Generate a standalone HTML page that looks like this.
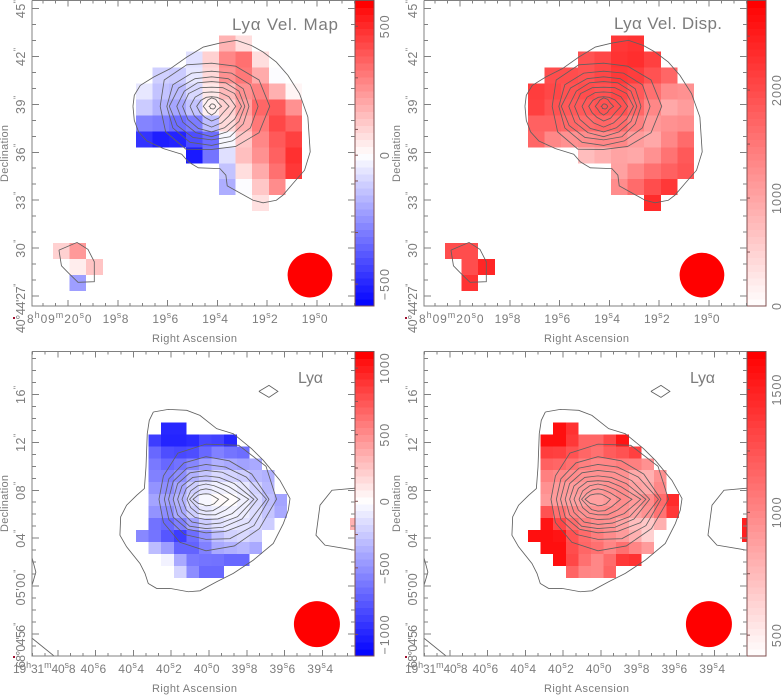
<!DOCTYPE html>
<html lang="en">
<head>
<meta charset="utf-8">
<title>Ly-alpha velocity maps</title>
<style>
html,body{margin:0;padding:0;background:#fff;width:782px;height:695px;overflow:hidden}
svg{display:block;font-family:"Liberation Sans",sans-serif}
text{fill:#7c7c7c}
</style>
</head>
<body>
<svg id="chart" width="782" height="695" viewBox="0 0 782 695"></svg>
<script>
const _ = null;

/* Panel 1: Ly-alpha velocity (km/s), rows run north to south */
const velocityTop = [
[_,_,_,_,_,_,_,_,_,_,180,78],
[_,_,_,_,_,_,_,_,-72,108,282,336,78],
[_,_,_,_,_,_,-108,-120,-54,90,258,318,198,-6],
[_,_,_,_,_,-54,-138,-156,-90,54,162,258,300,186,24],
[_,_,_,_,_,-120,-180,-204,-138,36,108,222,360,390,258],
[_,_,_,_,_,-282,-300,-336,-300,-150,90,186,318,432,372],
[_,_,_,_,_,-468,-516,-504,-408,-336,-18,132,282,390,450],
[_,_,_,_,_,_,_,_,-528,-318,-72,150,258,372,486],
[_,_,_,_,_,_,_,_,_,_,-138,78,198,336,468],
[_,_,_,_,_,_,_,_,_,_,-186,-6,132,270],
[_,_,_,_,_,_,_,_,_,_,_,_,72],
[],[],
[108,240],
[_,42,138],
[_,-222]
];

/* Panel 2: Ly-alpha velocity dispersion (km/s) */
const dispersionTop = [
[_,_,_,_,_,_,_,_,_,_,2207,2264],
[_,_,_,_,_,_,_,_,1924,2038,2264,2320,2122],
[_,_,_,_,_,_,1981,1981,1924,2038,2207,2151,1924,1698],
[_,_,_,_,_,2151,2038,1924,1981,1924,2038,1840,1585,1274,1217],
[_,_,_,_,_,2122,1924,1840,1840,1924,1924,1698,1330,962,1104],
[_,_,_,_,_,1755,1755,1698,1641,1698,1641,1415,1132,1217,1274],
[_,_,_,_,_,1698,1330,1217,1274,1330,1330,1104,962,1330,1641],
[_,_,_,_,_,_,_,_,736,877,1019,962,1217,1556,1840],
[_,_,_,_,_,_,_,_,_,_,1047,1330,1585,1755,1896],
[_,_,_,_,_,_,_,_,_,_,1274,1641,1981,2207],
[_,_,_,_,_,_,_,_,_,_,_,_,2349],
[],[],
[1981,1981],
[_,1981,2406],
[_,2264]
];

/* Panel 3: second source velocity (km/s) */
const velocityBottom = [
[_,_,-978,-978],
[_,-886,-1000,-1000,-966,-840,-862,-989],
[_,-690,-805,-828,-805,-690,-575,-632,-667],
[_,-610,-690,-644,-552,-448,-356,-391,-426,-391],
[_,-575,-586,-518,-356,-264,-172,-196,-230,-322,-356],
[_,-494,-518,-414,-230,-115,-69,-58,-104,-207,-322],
[_,-414,-426,-345,-172,-35,23,12,-69,-172,-288,-414],
[_,-494,-518,-391,-230,-104,-69,-58,-80,-161,-264,-391],
[_,-644,-690,-586,-426,-230,-138,-104,-127,-172,-230,_,_,_,_,_,_,345],
[-540,-632,-770,-886,-667,-494,-288,-207,-172,-230],
[_,-299,-448,-713,-713,-575,-391,-356,-322,-391],
[_,_,-58,-391,-610,-632,-644,-690,-690],
[_,_,_,-196,-518,-690,-690]
];

/* Panel 4: second source velocity dispersion (km/s) */
const dispersionBottom = [
[_,_,1581,1419],
[_,1581,1581,1382,1159,1159,1308,1556],
[_,1357,1345,1258,1159,1109,1209,1258,1345],
[_,1184,1159,1109,1035,998,1010,1047,1035,948],
[_,1035,998,973,948,948,948,948,837,799,948],
[_,948,911,899,899,905,948,973,874,837,998],
[_,911,899,874,874,874,911,973,911,973,1134,1444],
[_,1258,1109,1010,948,948,973,948,874,948,1097,1382],
[_,1556,1308,1134,1035,973,948,862,737,688,799,_,_,_,_,_,_,1500],
[1581,1581,1556,1258,1134,1047,973,899,799,638,_,_,_,_,_,_,_,1500],
[_,1581,1581,1283,1159,1109,1010,1109,1010,899],
[_,_,1581,1308,1109,998,1134,1382,1419],
[_,_,_,1171,1010,998,1171]
];

/* Contours: radii in arcsec from the flux peak, one entry per bearing */
const ringBearings = [0,30,60,90,120,150,180,210,240,270,300,330];
const ringsTop = [
[3.5,3.3,2.9,2.7,3.0,3.3,3.1,3.2,3.1,2.7,2.9,3.3],
[2.8,2.7,2.4,2.2,2.4,2.7,2.7,2.7,2.6,2.45,2.5,2.7],
[2.25,2.2,2.0,1.85,2.0,2.3,2.55,2.4,2.25,2.1,2.2,2.2],
[2.0,1.9,1.7,1.55,1.7,1.9,2.1,2.0,1.9,1.9,1.85,1.9],
[1.8,1.6,1.35,1.2,1.35,1.6,1.75,1.65,1.6,1.6,1.55,1.6],
[1.45,1.2,1.0,.9,1.0,1.15,1.3,1.2,1.2,1.3,1.2,1.2],
[1.05,.8,.65,.6,.65,.75,.9,.8,.8,.92,.85,.8],
[.6,.45,.5,.53,.45,.4,.5,.4,.45,.55,.45,.4],
[.25,.2,.17,.15,.12,.1,.15,.1,.15,.15,.2,.22]
];
const ringsBottom = [
[5.6,5.5,5.2,4.6,4.45,3.9,3.73,3.9,4.15,4.3,4.5,4.9],
[5.0,4.2,3.7,3.55,3.5,3.4,3.3,3.4,3.4,3.35,3.8,4.4],
[4.8,3.7,3.1,2.9,3.0,3.0,2.97,3.0,2.9,2.8,3.1,3.9],
[4.1,3.1,2.6,2.4,2.55,2.6,2.6,2.6,2.6,2.45,2.7,3.3],
[3.8,2.6,2.1,1.95,2.1,2.2,2.25,2.2,2.2,2.1,2.3,2.9],
[3.4,2.1,1.7,1.55,1.7,1.8,1.9,1.8,1.75,1.7,1.9,2.4],
[2.7,1.6,1.3,1.27,1.3,1.4,1.5,1.4,1.35,1.3,1.5,1.8],
[1.8,1.1,.9,.87,.9,1.0,1.3,1.0,1.0,1.0,1.1,1.25],
[1.0,.6,.5,.45,.5,.7,1.03,.7,.5,.55,.6,.75]
];

/* Contours: open or irregular outlines as [east-west, north-south] arcsec offsets from the peak */
const outerTop = [[-4.74,0],[-4.66,.69],[-4.3,1.31],[-3.5,1.83],[-2.5,2.35],[-1.5,3.08],[-.5,3.71],[.5,3.96],[1.5,4.13],[2.4,3.81],[3.1,3.4],[3.9,2.77],[4.6,1.94],[5.3,.79],[5.8,-.67],[5.94,-2.85],[5.6,-4],[4.9,-4.83],[4.3,-5.56],[3.9,-5.88],[3.1,-6.04],[2.5,-5.88],[1.7,-5.42],[.94,-4.98],[.86,-4.31],[.5,-3.9],[-.8,-3.85],[-1.4,-3.48],[-1.8,-3],[-2.9,-2.65],[-3.9,-2.17],[-4.4,-1.6],[-4.66,-.88],[-4.74,0]];
const blobTop = [[-9.2,-9.0],[-8.11,-8.52],[-7.45,-8.96],[-7.07,-9.73],[-7.07,-10.98],[-8.05,-11.02],[-8.6,-10.46],[-9.05,-9.98],[-9.2,-9.0]];
const outerBottom = [[-4.18,7.28],[-2.99,7.5],[-1.53,7.42],[-.48,7.0],[.85,5.89],[2.17,5.47],[3.62,4.22],[4.55,3.25],[5.87,1.58],[6.67,.06],[6.53,-.92],[6.14,-2.03],[5.34,-3.69],[3.76,-5.08],[2.17,-6.19],[.85,-6.89],[-.48,-7.64],[-1.4,-7.72],[-2.86,-7.44],[-3.92,-7.44],[-4.58,-7.03],[-4.84,-6.19],[-5.24,-5.36],[-6.3,-3.97],[-6.83,-3.0],[-6.77,-1.47],[-6.3,-.5],[-5.5,.33],[-4.89,.89],[-4.76,2.69],[-4.66,5.47],[-4.5,6.58],[-4.18,7.28]];
const diamondBottom = [[4.2,9],[5.0,9.5],[5.71,9],[5.0,8.5],[4.2,9]];
const eastEdgeBottom = [[11.83,.92],[10,.75],[9.05,-.5],[8.73,-3],[9.44,-3.83],[11.83,-4.25]];
const westEdgeBottom = [[-13.8,-4.9],[-13.5,-6.08],[-13.8,-7.17]];
const cornerBottom = [[-13.8,-11.6],[-12.06,-13.08]];

/* Axis tick values and labels */
const raTicksTop = [20.0,19.8,19.6,19.4,19.2,19.0];
const raLabelsTop = ['8^h09^m20^s0','19^s8','19^s6','19^s4','19^s2','19^s0'];
const decTicksTop = [27,30,33,36,39,42,45];
const decLabelsTop = ['40°44\'27^"','30^"','33^"','36^"','39^"','42^"','45^"'];
const raTicksBottom = [40.8,40.6,40.4,40.2,40.0,39.8,39.6,39.4];
const raLabelsBottom = ['19^h31^m40^s8','40^s6','40^s4','40^s2','40^s0','39^s8','39^s6','39^s4'];
const decTicksBottom = [56,60,64,68,72,76];
const decLabelsBottom = ['68°04\'56^"','05\'00^"','04^"','08^"','12^"','16^"'];

/* Colour bar tick values */
const barLabels1 = [500,0,-500];
const barMinor1 = [300,100,-100,-300];
const barLabels2 = [2000,1000,0];
const barMinor2 = [2500,1500,500];
const barLabels3 = [1000,500,0,-500,-1000];
const barMinor3 = [750,250,-250,-750];
const barLabels4 = [1500,1000,500];
const barMinor4 = [1250,750];

const svg = document.getElementById('chart');
const NS = svg.namespaceURI;
function node(parent, tag, attrs) {
  const el = document.createElementNS(NS, tag);
  for (const k in attrs) el.setAttribute(k, attrs[k]);
  parent.appendChild(el);
  return el;
}
function markup(s) {
  const parts = s.split('^');
  let out = parts[0];
  for (let i = 1; i < parts.length; i++) {
    const sup = parts[i].charAt(0) === '"' ? '&quot;' : parts[i].charAt(0);
    out += '<tspan dy="-5" font-size="9">' + sup + '</tspan><tspan dy="5">' + parts[i].slice(1) + '</tspan>';
  }
  return out;
}

const topGeom = {
  raLeft: 20.1446, raRight: 18.847, decBottom: 26.375, decTop: 45.5,
  pxTop: 0.5, pxBottom: 306,
  gridRA: 20.060, gridDec: 43.31,
  peakRA: 19.423, peakDec: 38.875,
  beamRA: 19.028, beamDec: 28.31, beamR: 1.4,
  raTicks: raTicksTop, raLabels: raLabelsTop, raMinor: 0.05,
  decTicks: decTicksTop, decLabels: decLabelsTop,
  rings: ringsTop, outlines: [outerTop, blobTop],
  labelY: 323, titleY: 342,
  firstLabelEnd: 92, firstLabelW: 65, firstDecTop: 283, firstDecW: 50
};
const bottomGeom = {
  raLeft: 40.9365, raRight: 39.2275, decBottom: 54.167, decTop: 79.58,
  pxTop: 351.5, pxBottom: 656,
  gridRA: 40.386, gridDec: 73.67,
  peakRA: 40.016, peakDec: 67.25,
  beamRA: 39.429, beamDec: 56.83, beamR: 1.92,
  raTicks: raTicksBottom, raLabels: raLabelsBottom, raMinor: 0.2/3,
  decTicks: decTicksBottom, decLabels: decLabelsBottom,
  rings: ringsBottom, outlines: [outerBottom, diamondBottom, eastEdgeBottom, westEdgeBottom, cornerBottom],
  labelY: 673, titleY: 692,
  firstLabelEnd: 76, firstLabelW: 63, firstDecTop: 622, firstDecW: 46
};

function drawPanel(cfg) {
  const g = cfg.geom;
  const left = 32 + cfg.dx, right = 355 + cfg.dx, barRight = 374 + cfg.dx;
  const xs = ra => left + (g.raLeft - ra) / (g.raLeft - g.raRight) * (right - left);
  const ys = dec => g.pxBottom - (dec - g.decBottom) / (g.decTop - g.decBottom) * (g.pxBottom - g.pxTop);
  const colour = v => {
    const t = Math.min(1, Math.abs(v) / (v >= 0 ? cfg.vTop : cfg.vNeg));
    const c = Math.round(255 * (1 - t));
    return v >= 0 ? `rgb(255,${c},${c})` : `rgb(${c},${c},255)`;
  };
  const colourSeq = cfg.vBase === undefined ? colour : v => {
    const t = Math.max(0, Math.min(1, (v - cfg.vBase) / (cfg.vTop - cfg.vBase)));
    const c = Math.round(255 * (1 - t));
    return `rgb(255,${c},${c})`;
  };

  const panel = node(svg, 'g', {});
  
  

  const clip = node(panel, 'clipPath', {id: cfg.name + '-clip'});
  node(clip, 'rect', {x: left, y: g.pxTop, width: right - left, height: g.pxBottom - g.pxTop});

  const cellLayer = node(panel, 'g', {'shape-rendering': 'crispEdges', 'clip-path': `url(#${cfg.name}-clip)`});
  
  
  cfg.values.forEach((row, r) => row.forEach((v, c) => {
    if (v === null) return;
    const ra = g.gridRA - c / 15, dec = g.gridDec - r;
    const cell = node(cellLayer, 'rect', {
      x: xs(ra), y: ys(dec),
      width: xs(ra - 1 / 15) - xs(ra), height: ys(dec - 1) - ys(dec),
      fill: colourSeq(v)
    });
    
    
  }));

  const beam = node(panel, 'circle', {
    cx: xs(g.beamRA), cy: ys(g.beamDec),
    r: ys(g.beamDec - g.beamR) - ys(g.beamDec), fill: '#ff0000'
  });
  
  

  const contourLayer = node(panel, 'g', {fill: 'none', stroke: '#606060', 'stroke-width': 0.85, 'clip-path': `url(#${cfg.name}-clip)`});
  
  
  const offsetPoint = (dx, dy) => xs(g.peakRA - dx / 15).toFixed(2) + ',' + ys(g.peakDec + dy).toFixed(2);
  g.outlines.forEach(line => {
    const path = node(contourLayer, 'polyline', {points: line.map(p => offsetPoint(p[0], p[1])).join(' ')});
    
    
  });
  g.rings.forEach(ring => {
    const pts = ring.map((rad, i) => {
      const a = ringBearings[i] * Math.PI / 180;
      return offsetPoint(rad * Math.cos(a), rad * Math.sin(a));
    });
    const poly = node(contourLayer, 'polygon', {points: pts.join(' ')});
    
    
  });

  /* colour bar */
  const bar = node(panel, 'g', {'shape-rendering': 'crispEdges'});
  
  
  const barY = v => g.pxBottom - (v - cfg.vMin) / (cfg.vMax - cfg.vMin) * (g.pxBottom - g.pxTop);
  const bands = 44;
  for (let i = 0; i < bands; i++) {
    const lo = cfg.vMin + (cfg.vMax - cfg.vMin) * i / bands;
    const hi = cfg.vMin + (cfg.vMax - cfg.vMin) * (i + 1) / bands;
    const band = node(bar, 'rect', {
      x: right, y: barY(hi), width: barRight - right, height: barY(lo) - barY(hi) + 0.5,
      fill: colourSeq(i === bands - 1 ? cfg.vTop : (lo + hi) / 2)
    });
    
    
  }
  const barFrame = node(panel, 'rect', {x: right, y: g.pxTop, width: barRight - right, height: g.pxBottom - g.pxTop, fill: 'none', stroke: '#805050', 'stroke-width': 1});
  
  
  cfg.barLabels.concat(cfg.barMinor).forEach(v => {
    const tick = node(panel, 'line', {x1: right, x2: right + 3, y1: barY(v), y2: barY(v), stroke: '#805050', 'stroke-width': 1});
    
    
  });
  cfg.barLabels.forEach(v => {
    const x = barRight + 15, y = barY(v);
    const label = node(panel, 'text', {x: x, y: y, 'font-size': 12.5, 'text-anchor': 'middle', 'letter-spacing': 1, transform: `rotate(-90 ${x} ${y})`});
    
    
    label.textContent = String(v).replace('-', '\u2212');
  });

  /* axes frame */
  const frame = node(panel, 'path', {
    d: `M${left} ${g.pxTop}H${right}M${left} ${g.pxTop}V${g.pxBottom}H${right}`,
    fill: 'none', stroke: '#808080', 'stroke-width': 1, 'shape-rendering': 'crispEdges'
  });
  
  

  /* ticks */
  const tickPath = [];
  for (let i = -40; i <= 40; i++) {
    const ra = g.raTicks[0] + i * g.raMinor;
    if (ra > g.raLeft || ra < g.raRight) continue;
    tickPath.push(`M${xs(ra)} ${g.pxBottom}v-3M${xs(ra)} ${g.pxTop}v3`);
  }
  g.raTicks.forEach(ra => tickPath.push(`M${xs(ra)} ${g.pxBottom}v-6M${xs(ra)} ${g.pxTop}v6`));
  for (let d = Math.ceil(g.decBottom); d <= g.decTop; d++) {
    tickPath.push(`M${left} ${ys(d)}h4M${right} ${ys(d)}h-4`);
  }
  g.decTicks.forEach(d => tickPath.push(`M${left} ${ys(d)}h7M${right} ${ys(d)}h-7`));
  const ticks = node(panel, 'path', {d: tickPath.join(''), fill: 'none', stroke: '#808080', 'stroke-width': 1, 'shape-rendering': 'crispEdges'});
  
  

  /* tick labels */
  g.raTicks.forEach((ra, i) => {
    const end = i === 0 ? g.firstLabelEnd + cfg.dx : xs(ra) + 11;
    const attrs = {x: end, y: g.labelY, 'font-size': 12, 'text-anchor': 'end', 'letter-spacing': 0.4};
    if (i === 0) {
      attrs.textLength = g.firstLabelW;
      attrs.lengthAdjust = 'spacing';
    }
    const t = node(panel, 'text', attrs);
    
    
    t.innerHTML = markup(g.raLabels[i]);
  });
  g.decTicks.forEach((d, i) => {
    const x = left - 7;
    const isLong = g.decLabels[i].indexOf("'") >= 0;
    const y = i === 0 ? g.firstDecTop : ys(d) - (isLong ? 17 : 9);
    const attrs = {x: x, y: y, 'font-size': 12.5, 'text-anchor': 'end', 'letter-spacing': 0.5, transform: `rotate(-90 ${x} ${y})`};
    if (i === 0) {
      attrs.textLength = g.firstDecW;
      attrs.lengthAdjust = 'spacing';
    }
    const t = node(panel, 'text', attrs);
    
    
    t.innerHTML = markup(g.decLabels[i]);
  });
  const degree = node(panel, 'rect', {x: left - 19, y: g.pxBottom + (g.pxBottom < 400 ? 11 : 0), width: 2, height: 2, fill: '#a01030'});
  
  

  /* axis titles */
  const xTitle = node(panel, 'text', {x: 152 + cfg.dx, y: g.titleY, 'font-size': 11, textLength: 85, lengthAdjust: 'spacing'});
  
  
  xTitle.textContent = 'Right Ascension';
  const yCentre = g.pxBottom - 152.5, yTx = 8 + cfg.dx;
  const yTitle = node(panel, 'text', {x: yTx, y: yCentre + 28.5, 'font-size': 11, textLength: 57, lengthAdjust: 'spacing', transform: `rotate(-90 ${yTx} ${yCentre + 28.5})`});
  
  
  yTitle.textContent = 'Declination';

  const title = node(panel, 'text', {x: cfg.titleX, y: cfg.titleBase, 'font-size': cfg.titleSize, textLength: cfg.titleW, lengthAdjust: 'spacing'});
  
  
  title.textContent = cfg.title;
}

drawPanel({name: 'velocity-panel-top', geom: topGeom, dx: 0, values: velocityTop,
  vTop: 600, vNeg: 585, vMin: -585, vMax: 600, barLabels: barLabels1, barMinor: barMinor1,
  title: 'Ly\u03b1 Vel. Map', titleX: 232, titleBase: 30, titleSize: 17, titleW: 106});
drawPanel({name: 'dispersion-panel-top', geom: topGeom, dx: 392, values: dispersionTop,
  vTop: 2830, vBase: 0, vMin: 0, vMax: 2830, barLabels: barLabels2, barMinor: barMinor2,
  title: 'Ly\u03b1 Vel. Disp.', titleX: 614, titleBase: 29, titleSize: 17, titleW: 108});
drawPanel({name: 'velocity-panel-bottom', geom: bottomGeom, dx: 0, values: velocityBottom,
  vTop: 1125, vNeg: 1162, vMin: -1162, vMax: 1125, barLabels: barLabels3, barMinor: barMinor3,
  title: 'Ly\u03b1', titleX: 298, titleBase: 383, titleSize: 16, titleW: 25});
drawPanel({name: 'dispersion-panel-bottom', geom: bottomGeom, dx: 392, values: dispersionBottom,
  vTop: 1655, vBase: 415, vMin: 415, vMax: 1655, barLabels: barLabels4, barMinor: barMinor4,
  title: 'Ly\u03b1', titleX: 690, titleBase: 383, titleSize: 16, titleW: 25});
</script>
</body>
</html>
